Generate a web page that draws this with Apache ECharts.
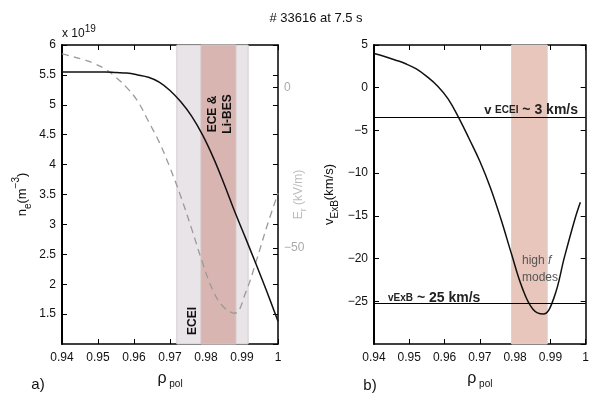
<!DOCTYPE html>
<html>
<head>
<meta charset="utf-8">
<script src="https://cdn.jsdelivr.net/npm/echarts@6/dist/echarts.min.js"></script>
<style>
  html, body { margin: 0; padding: 0; background: #fff; }
  #chart { width: 592px; height: 394px; }
</style>
</head>
<body>
<div id="chart"></div>
<script>
// panel a) density profile n_e (x 1e19 m^-3)
var rhoNe = [0.940, 0.943, 0.946, 0.949, 0.952, 0.955, 0.958, 0.961, 0.964, 0.967, 0.970, 0.973, 0.976, 0.979, 0.982, 0.985, 0.988, 0.991, 0.994, 0.997, 1.000];
var neVals = [5.55, 5.55, 5.55, 5.55, 5.55, 5.54, 5.53, 5.50, 5.46, 5.38, 5.24, 5.05, 4.81, 4.50, 4.12, 3.68, 3.21, 2.77, 2.32, 1.86, 1.38];
// panel a) radial electric field Er (kV/m), dashed
var rhoEr = [0.940, 0.943, 0.946, 0.949, 0.952, 0.955, 0.958, 0.961, 0.964, 0.967, 0.970, 0.973, 0.976, 0.979, 0.982, 0.985, 0.988, 0.991, 0.994, 0.997, 1.000];
var erVals = [10.5, 9.7, 8.7, 7.5, 5.8, 3.2, 0.0, -4.2, -10.5, -17.0, -25.0, -34.0, -44.0, -54.5, -63.5, -68.6, -70.4, -64.0, -54.0, -43.0, -33.0];
// panel b) v_ExB (km/s)
var rhoV = [0.940, 0.943, 0.946, 0.949, 0.952, 0.955, 0.958, 0.961, 0.964, 0.967, 0.970, 0.973, 0.976, 0.979, 0.982, 0.985, 0.988, 0.991, 0.994, 0.997, 0.9985];
var vVals = [4.0, 3.65, 3.25, 2.8, 2.2, 1.3, 0.2, -1.3, -3.5, -6.0, -8.6, -11.7, -15.4, -19.5, -23.4, -25.9, -26.5, -24.6, -19.8, -15.3, -13.4];
// reference velocities
var vEceiLevel = -3.5;
var vExbLevel = -25.2;
// diagnostic bands (rho_pol)
var eceiBand = [0.9719, 0.9917];
var eceBand = [0.9786, 0.9883];
var hfBand = [0.9790, 0.9891];
// axis ticks
var rhoTicks = { min: 0.94, max: 1.0, step: 0.01 };
var erTickVals = [0, -50];

var FONT = 'Liberation Sans';
var minus = function (s) { return String(s).replace('-', '\u2212'); };

function pairs(xs, ys) { return xs.map(function (x, i) { return [x, ys[i]]; }); }

function xAx(grid, bottom) {
  return {
    type: 'value', gridIndex: grid, position: bottom ? 'bottom' : 'top',
    min: rhoTicks.min, max: rhoTicks.max, interval: rhoTicks.step,
    axisLine: { show: true, onZero: false, lineStyle: { color: '#000', width: 1.5 } },
    axisTick: { show: true, inside: true, length: 5, lineStyle: { color: '#000' } },
    axisLabel: {
      show: bottom, color: '#111', fontFamily: FONT, fontSize: 12, margin: 8,
      formatter: function (v) { return Math.abs(v - 1) < 1e-9 ? '1' : v.toFixed(2); }
    },
    splitLine: { show: false },
    name: bottom ? '{r|\u03c1}{s| pol}' : '',
    nameLocation: 'middle', nameGap: 25, nameMoveOverlap: false,
    nameTextStyle: {
      rich: {
        r: { fontFamily: FONT, fontSize: 16, color: '#111', lineHeight: 20, verticalAlign: 'middle' },
        s: { fontFamily: FONT, fontSize: 10, color: '#111', lineHeight: 20, verticalAlign: 'bottom', padding: [6, 0, 0, 0] }
      }
    }
  };
}

var option = {
  animation: false,
  backgroundColor: '#fff',
  grid: [
    { left: 62, top: 45, width: 216, height: 302 },
    { left: 374, top: 45, width: 214, height: 302 }
  ],
  xAxis: [xAx(0, true), xAx(0, false), xAx(1, true), xAx(1, false)],
  yAxis: [
    { // 0: n_e
      type: 'value', gridIndex: 0, position: 'left', min: 1, max: 6, interval: 0.5,
      axisLine: { show: true, onZero: false, lineStyle: { color: '#000', width: 2 } },
      axisTick: { inside: true, length: 5, lineStyle: { color: '#000' } },
      axisLabel: { showMinLabel: false, color: '#111', fontFamily: FONT, fontSize: 12, margin: 6 },
      splitLine: { show: false },
      name: '{n|n}{s|e}{n|(m}{p|\u22123}{n|)}', nameLocation: 'middle', nameGap: 29, nameRotate: 90, nameMoveOverlap: false,
      nameTextStyle: {
        rich: {
          n: { fontFamily: FONT, fontSize: 13, color: '#111', lineHeight: 22, verticalAlign: 'middle' },
          s: { fontFamily: FONT, fontSize: 10, color: '#111', lineHeight: 22, verticalAlign: 'bottom' },
          p: { fontFamily: FONT, fontSize: 10, color: '#111', lineHeight: 22, verticalAlign: 'top' }
        }
      }
    },
    { // 1: n_e mirror (box)
      type: 'value', gridIndex: 0, position: 'right', min: 1, max: 6, interval: 0.5,
      axisLine: { show: true, onZero: false, lineStyle: { color: '#000', width: 1.5 } },
      axisTick: { inside: true, length: 5, lineStyle: { color: '#000' } },
      axisLabel: { show: false }, splitLine: { show: false }
    },
    { // 2: Er
      type: 'value', gridIndex: 0, position: 'right', offset: 0, min: -80, max: 13.3,
      axisLine: { show: false, onZero: false },
      axisTick: { show: true, inside: true, length: 5, customValues: erTickVals, lineStyle: { color: '#000' } },
      axisLabel: {
        color: '#aaa', fontFamily: FONT, fontSize: 12, margin: 6, customValues: erTickVals,
        formatter: function (v) { return minus(v); }
      },
      splitLine: { show: false },
      name: '{n|E}{s|r}{n| (kV/m)}', nameLocation: 'middle', nameGap: 12, nameRotate: 90, nameMoveOverlap: false,
      nameTextStyle: {
        rich: {
          n: { fontFamily: FONT, fontSize: 12, color: '#bbb', lineHeight: 18, verticalAlign: 'middle' },
          s: { fontFamily: FONT, fontSize: 9, color: '#bbb', lineHeight: 18, verticalAlign: 'bottom' }
        }
      }
    },
    { // 3: v_ExB
      type: 'value', gridIndex: 1, position: 'left', min: -30, max: 5, interval: 5,
      axisLine: { show: true, onZero: false, lineStyle: { color: '#000', width: 2 } },
      axisTick: { inside: true, length: 5, lineStyle: { color: '#000' } },
      axisLabel: { showMinLabel: false, color: '#111', fontFamily: FONT, fontSize: 12, margin: 6, formatter: function (v) { return minus(v); } },
      splitLine: { show: false },
      name: '{n|v}{s|ExB}{n|(km/s)}', nameLocation: 'middle', nameGap: 34, nameRotate: 90, nameMoveOverlap: false,
      nameTextStyle: {
        rich: {
          n: { fontFamily: FONT, fontSize: 13, color: '#111', lineHeight: 22, verticalAlign: 'middle' },
          s: { fontFamily: FONT, fontSize: 10, color: '#111', lineHeight: 22, verticalAlign: 'bottom' }
        }
      }
    },
    { // 4: v mirror
      type: 'value', gridIndex: 1, position: 'right', min: -30, max: 5, interval: 5,
      axisLine: { show: true, onZero: false, lineStyle: { color: '#000', width: 1.5 } },
      axisTick: { inside: true, length: 5, lineStyle: { color: '#000' } },
      axisLabel: { show: false }, splitLine: { show: false }
    }
  ],
  series: [
    { // bands panel a
      type: 'line', xAxisIndex: 0, yAxisIndex: 0, data: [], z: 1, silent: true,
      markArea: {
        silent: true,
        data: [
          [{ xAxis: eceiBand[0], itemStyle: { color: '#e8e4e7', borderColor: '#d2cdd0', borderWidth: 1 } }, { xAxis: eceiBand[1] }],
          [{ xAxis: eceBand[0], itemStyle: { color: '#d8b5b1', borderColor: '#cfc6c6', borderWidth: 1 } }, { xAxis: eceBand[1] }]
        ]
      }
    },
    { // band panel b
      type: 'line', xAxisIndex: 2, yAxisIndex: 3, data: [], z: 1, silent: true,
      markArea: {
        silent: true,
        data: [
          [{ xAxis: hfBand[0], itemStyle: { color: '#e8c6bb', borderColor: '#d6d2d2', borderWidth: 1 } }, { xAxis: hfBand[1] }]
        ]
      }
    },
    {
      name: 'Er', type: 'line', xAxisIndex: 0, yAxisIndex: 2, z: 3,
      data: pairs(rhoEr, erVals), smooth: 0.4, smoothConstraint: false, showSymbol: false,
      lineStyle: { color: '#9a9a9a', width: 1.3, type: [7, 5] }
    },
    {
      name: 'ne', type: 'line', xAxisIndex: 0, yAxisIndex: 0, z: 4,
      data: pairs(rhoNe, neVals), smooth: 0.4, smoothConstraint: false, showSymbol: false,
      lineStyle: { color: '#111', width: 1.5 }
    },
    {
      name: 'vExB', type: 'line', xAxisIndex: 2, yAxisIndex: 3, z: 4,
      data: pairs(rhoV, vVals), smooth: 0.4, smoothConstraint: false, showSymbol: false,
      lineStyle: { color: '#111', width: 1.5 },
      markLine: {
        silent: true, symbol: ['none', 'none'], label: { show: false },
        lineStyle: { color: '#000', width: 1, type: 'solid' },
        data: [{ yAxis: vEceiLevel }, { yAxis: vExbLevel }]
      }
    }
  ],
  graphic: [
    { type: 'text', x: 316, y: 18, style: { text: '# 33616 at 7.5 s', font: '13px ' + FONT, fill: '#111', textAlign: 'center', textVerticalAlign: 'middle' } },
    { type: 'text', x: 62, y: 24, style: { text: '{n|x 10}{p|19}', textVerticalAlign: 'top',
      rich: { n: { font: '12px ' + FONT, fill: '#111', lineHeight: 16, verticalAlign: 'bottom' }, p: { font: '10px ' + FONT, fill: '#111', lineHeight: 16, verticalAlign: 'top' } } } },
    { type: 'text', x: 220, y: 114, rotation: Math.PI / 2, z: 10, style: { text: 'ECE &\nLi-BES', font: 'bold 12px ' + FONT, fill: '#111', textAlign: 'center', textVerticalAlign: 'middle', lineHeight: 15 } },
    { type: 'text', x: 193, y: 321, rotation: Math.PI / 2, z: 10, style: { text: 'ECEI', font: 'bold 12px ' + FONT, fill: '#111', textAlign: 'center', textVerticalAlign: 'middle' } },
    { type: 'text', x: 578, y: 110, z: 10, style: { text: '{v|v }{s|ECEI}{b| ~ 3 km/s}', textAlign: 'right', textVerticalAlign: 'middle',
      rich: { v: { font: 'bold 13px ' + FONT, fill: '#222' }, s: { font: 'bold 10px ' + FONT, fill: '#222' }, b: { font: 'bold 14px ' + FONT, fill: '#222' } } } },
    { type: 'text', x: 388, y: 298, z: 10, style: { text: '{s|vExB}{b| ~ 25 km/s}', textAlign: 'left', textVerticalAlign: 'middle',
      rich: { s: { font: 'bold 10px ' + FONT, fill: '#222' }, b: { font: 'bold 14px ' + FONT, fill: '#222' } } } },
    { type: 'text', x: 522, y: 252, z: 10, style: { text: '{n|high }{i|f}\n{n|modes}', textAlign: 'left', textVerticalAlign: 'top',
      rich: { n: { font: '12px ' + FONT, fill: '#555', lineHeight: 17 }, i: { font: 'italic 12px ' + FONT, fill: '#555', lineHeight: 17 } } } },
    { type: 'text', x: 38, y: 385, style: { text: 'a)', font: '15px ' + FONT, fill: '#111', textAlign: 'center', textVerticalAlign: 'middle' } },
    { type: 'text', x: 370, y: 386, style: { text: 'b)', font: '15px ' + FONT, fill: '#111', textAlign: 'center', textVerticalAlign: 'middle' } }
  ]
};

var chart = echarts.init(document.getElementById('chart'), null, { renderer: 'canvas' });
chart.setOption(option);
</script>
</body>
</html>
